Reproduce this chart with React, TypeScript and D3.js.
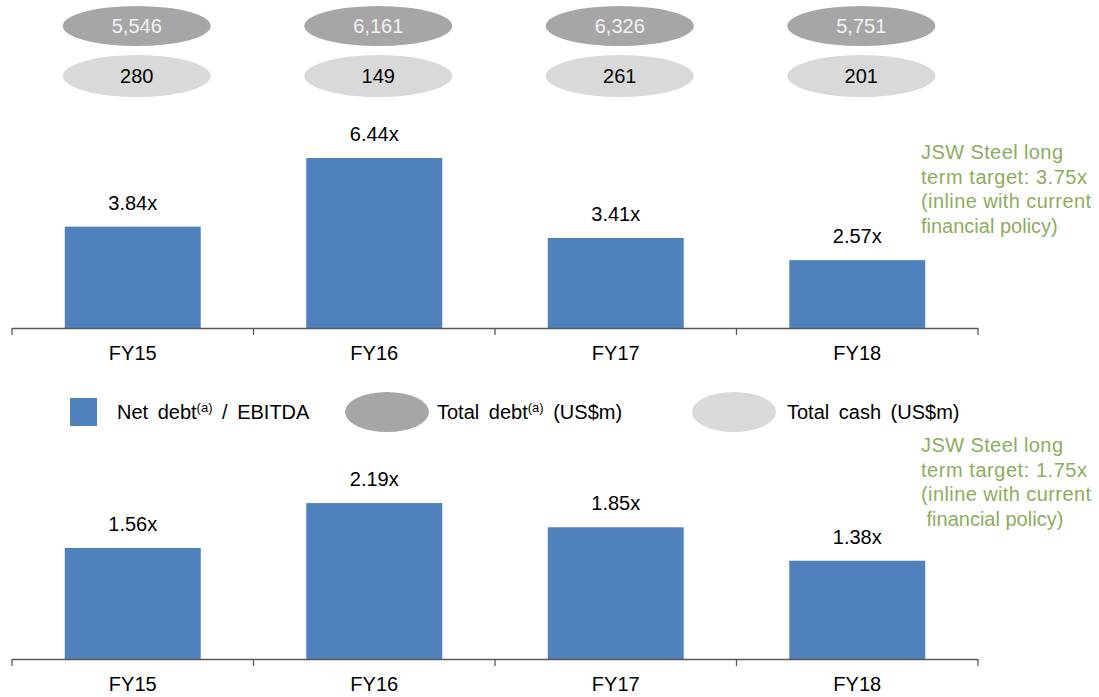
import React from "react";
import * as d3 from "d3";

const years = ["FY15", "FY16", "FY17", "FY18"];
const totalDebt = ["5,546", "6,161", "6,326", "5,751"];
const totalCash = ["280", "149", "261", "201"];
const netDebtToEbitdaTop = [3.84, 6.44, 3.41, 2.57];
const netDebtToEbitdaBottom = [1.56, 2.19, 1.85, 1.38];
const targetNoteTop = ["JSW Steel long", "term target: 3.75x", "(inline with current", "financial policy)"];
const targetNoteBottom = ["JSW Steel long", "term target: 1.75x", "(inline with current", " financial policy)"];

const W = 1099;
const H = 697;
const FONT = "'Liberation Sans', Arial, sans-serif";
const BLUE = "#4f81bd";
const DARK_GREY = "#a6a6a6";
const LIGHT_GREY = "#d9d9d9";
const GREEN = "#8cad5c";
const AXIS = "#595959";

const x = d3.scaleBand<string>().domain(years).range([12, 978]).padding(0);
const barW = x.bandwidth() * 0.563;

const yTop = d3.scaleLinear().domain([0, 7]).range([328, 328 - 7 * 26.4]);
const yBottom = d3.scaleLinear().domain([0, 2.5]).range([659, 659 - 2.5 * 71.2]);

function Panel({ values, y, labelY }: { values: number[]; y: d3.ScaleLinear<number, number>; labelY: number }) {
  const base = y(0);
  const edges = [...years.map((c) => x(c) as number), x.range()[1]];
  return (
    <g>
      {values.map((v, i) => {
        const cx = (x(years[i]) as number) + x.bandwidth() / 2;
        return (
          <g key={years[i]}>
            <rect x={cx - barW / 2} y={y(v)} width={barW} height={base - y(v)} fill={BLUE} />
            <text x={cx} y={y(v) - 17} textAnchor="middle" fontSize={20} fill="#000">
              {v.toFixed(2)}x
            </text>
            <text x={cx} y={labelY} textAnchor="middle" fontSize={20} fill="#000">
              {years[i]}
            </text>
          </g>
        );
      })}
      <line x1={x.range()[0]} x2={x.range()[1]} y1={base + 0.5} y2={base + 0.5} stroke={AXIS} strokeWidth={1.3} />
      {edges.map((e, i) => (
        <line key={i} x1={e} x2={e} y1={base} y2={base + 7} stroke={AXIS} strokeWidth={1.3} />
      ))}
    </g>
  );
}

function Note({ lines, x0, y0, widths }: { lines: string[]; x0: number; y0: number; widths: (number | null)[] }) {
  return (
    <text fontSize={20} fill={GREEN} xmlSpace="preserve">
      {lines.map((l, i) => (
        <tspan
          key={i}
          x={x0}
          y={y0 + i * 24.5}
          {...(widths[i] ? { textLength: widths[i] as number, lengthAdjust: "spacing" } : {})}
        >
          {l}
        </tspan>
      ))}
    </text>
  );
}

export default function App() {
  return (
    <svg width={W} height={H} style={{ position: "absolute", left: 0, top: 0, fontFamily: FONT }}>
      <rect width={W} height={H} fill="#fff" />
      {years.map((c, i) => {
        const cx = (x(c) as number) + x.bandwidth() / 2 + 4;
        return (
          <g key={c}>
            <ellipse cx={cx} cy={26} rx={74} ry={20} fill={DARK_GREY} />
            <text x={cx} y={33} textAnchor="middle" fontSize={20} fill="#f2f2f2">
              {totalDebt[i]}
            </text>
            <ellipse cx={cx} cy={76} rx={74} ry={21} fill={LIGHT_GREY} />
            <text x={cx} y={83} textAnchor="middle" fontSize={20} fill="#000">
              {totalCash[i]}
            </text>
          </g>
        );
      })}

      <Panel values={netDebtToEbitdaTop} y={yTop} labelY={360} />
      <Note lines={targetNoteTop} x0={921} y0={159} widths={[142, 166, 170, null]} />

      {/* legend */}
      <rect x={70} y={398} width={27} height={28} fill={BLUE} />
      <text x={117} y={419} fontSize={20} fill="#000" wordSpacing={4}>
        Net debt<tspan fontSize={13} dy={-7}>(a)</tspan>
        <tspan dy={7}> / EBITDA</tspan>
      </text>
      <ellipse cx={387} cy={412} rx={42} ry={20} fill={DARK_GREY} />
      <text x={437} y={419} fontSize={20} fill="#000" wordSpacing={4}>
        Total debt<tspan fontSize={13} dy={-7}>(a)</tspan>
        <tspan dy={7}> (US$m)</tspan>
      </text>
      <ellipse cx={734} cy={412} rx={42} ry={20} fill={LIGHT_GREY} />
      <text x={787} y={419} fontSize={20} fill="#000" wordSpacing={4}>
        Total cash (US$m)
      </text>

      <Note lines={targetNoteBottom} x0={921} y0={452} widths={[142, 166, 170, null]} />
      <Panel values={netDebtToEbitdaBottom} y={yBottom} labelY={691} />
    </svg>
  );
}
